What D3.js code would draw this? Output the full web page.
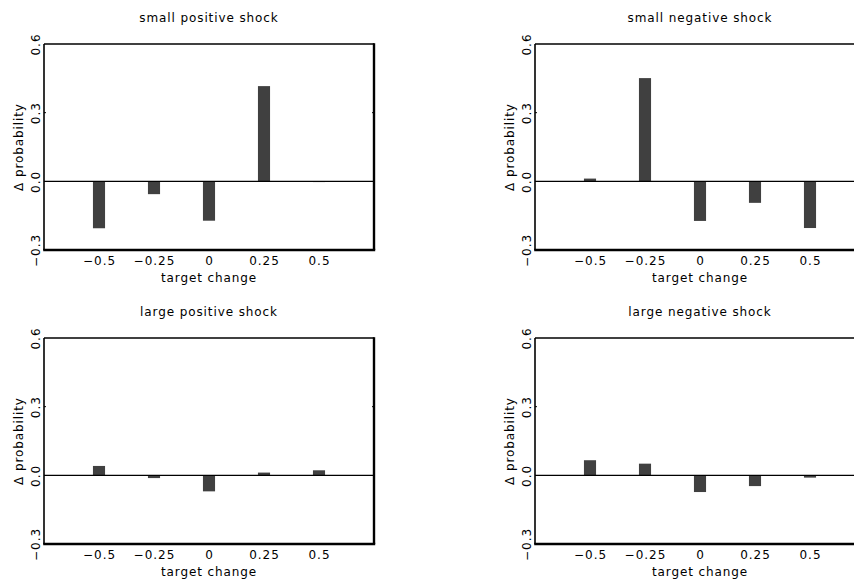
<!DOCTYPE html>
<html>
<head>
<meta charset="utf-8">
<script src="https://cdn.jsdelivr.net/npm/d3@7"></script>
<style>
  body { margin: 0; background: #fff; }
  svg { display: block; }
  text { font-family: "DejaVu Sans", sans-serif; fill: #000; }
  .axis path, .axis line { display: none; }
</style>
</head>
<body>
<div class="chart"></div>
<script>
var svgWidth = 854;
var svgHeight = 579;

// data
var categories = [-0.5, -0.25, 0, 0.25, 0.5];
var xTickLabels = ["\u22120.5", "\u22120.25", "0", "0.25", "0.5"];
var yTicks = [-0.3, 0, 0.3, 0.6];
var yTickLabels = ["\u22120.3", "0.0", "0.3", "0.6"];
var titles = ["small positive shock", "small negative shock", "large positive shock", "large negative shock"];
var smallPositive = [-0.205, -0.056, -0.172, 0.416, -0.003];
var smallNegative = [0.012, 0.451, -0.173, -0.094, -0.204];
var largePositive = [0.041, -0.012, -0.070, 0.012, 0.022];
var largeNegative = [0.066, 0.051, -0.073, -0.047, -0.010];
var seriesList = [smallPositive, smallNegative, largePositive, largeNegative];

var panelWidth = 330;
var panelHeight = 206;
var panelLeft = [44, 535];
var panelTop = [44, 338];

var svg = d3.select(".chart")
  .append("svg")
  .attr("width", svgWidth)
  .attr("height", svgHeight);

var xScale = d3.scaleLinear().domain([-0.75, 0.75]).range([0, panelWidth]);
var yScale = d3.scaleLinear().domain([-0.3, 0.6]).range([panelHeight, 0]);
var barWidth = xScale(0.0275) - xScale(-0.0275);

seriesList.forEach(function (values, i) {
  var px = panelLeft[i % 2];
  var py = panelTop[Math.floor(i / 2)];
  var g = svg.append("g").attr("transform", `translate(${px}, ${py})`);
  var data = categories.map(function (c, j) { return { cat: c, val: values[j] }; });

  // bars
  g.selectAll("rect.bar")
    .data(data)
    .enter()
    .append("rect")
    .attr("class", "bar")
    .attr("x", d => xScale(d.cat) - barWidth / 2)
    .attr("width", barWidth)
    .attr("y", d => yScale(Math.max(0, d.val)))
    .attr("height", d => Math.max(1, Math.abs(yScale(d.val) - yScale(0))))
    .attr("fill", d => Math.abs(d.val) < 0.005 ? "#d8d8d8" : "#404040");

  // zero line
  g.append("line")
    .attr("x1", 0).attr("x2", panelWidth)
    .attr("y1", yScale(0)).attr("y2", yScale(0))
    .attr("stroke", "#000").attr("stroke-width", 1.2);

  // frame
  g.append("line").attr("x1", 0).attr("x2", panelWidth).attr("y1", 0).attr("y2", 0)
    .attr("stroke", "#000").attr("stroke-width", 1.6);
  g.append("line").attr("x1", 0).attr("x2", 0).attr("y1", 0).attr("y2", panelHeight)
    .attr("stroke", "#000").attr("stroke-width", 1.6);
  g.append("line").attr("x1", panelWidth).attr("x2", panelWidth).attr("y1", -0.8).attr("y2", panelHeight)
    .attr("stroke", "#000").attr("stroke-width", 2.4);
  g.append("line").attr("x1", -0.8).attr("x2", panelWidth + 1.2).attr("y1", panelHeight).attr("y2", panelHeight)
    .attr("stroke", "#000").attr("stroke-width", 2.6);

  // small ticks at 0.3
  [0, panelWidth].forEach(function (xx, k) {
    g.append("line")
      .attr("x1", xx).attr("x2", k === 0 ? xx + 2 : xx - 2)
      .attr("y1", yScale(0.3)).attr("y2", yScale(0.3))
      .attr("stroke", "#000").attr("stroke-width", 1);
  });

  // x axis
  var bottomAxis = d3.axisBottom(xScale)
    .tickValues(categories)
    .tickSize(0)
    .tickFormat((d, j) => xTickLabels[j]);
  var xAxisG = g.append("g")
    .attr("class", "axis")
    .attr("transform", `translate(0, ${panelHeight})`)
    .call(bottomAxis);
  xAxisG.selectAll("text")
    .attr("y", 15).attr("dy", null)
    .style("font-size", "12px")
    .style("letter-spacing", "1px")
    .attr("font-family", null);

  // y axis (rotated labels)
  var leftAxis = d3.axisLeft(yScale)
    .tickValues(yTicks)
    .tickSize(0)
    .tickFormat((d, j) => yTickLabels[j]);
  var yAxisG = g.append("g")
    .attr("class", "axis")
    .call(leftAxis);
  yAxisG.selectAll("text")
    .attr("x", null).attr("dy", null)
    .attr("text-anchor", "middle")
    .attr("transform", "translate(-4, 0) rotate(-90)")
    .style("font-size", "12px")
    .style("letter-spacing", "1px")
    .attr("font-family", null);

  // labels
  g.append("text")
    .attr("x", panelWidth / 2)
    .attr("y", -22)
    .attr("text-anchor", "middle")
    .style("font-size", "12px")
    .style("letter-spacing", "0.9px")
    .text(titles[i]);

  g.append("text")
    .attr("x", panelWidth / 2)
    .attr("y", panelHeight + 32)
    .attr("text-anchor", "middle")
    .style("font-size", "12px")
    .style("letter-spacing", "0.9px")
    .text("target change");

  g.append("text")
    .attr("transform", `translate(-21, ${panelHeight / 2}) rotate(-90)`)
    .attr("text-anchor", "middle")
    .style("font-size", "12px")
    .style("letter-spacing", "0.9px")
    .text("\u0394 probability");
});
</script>
</body>
</html>
